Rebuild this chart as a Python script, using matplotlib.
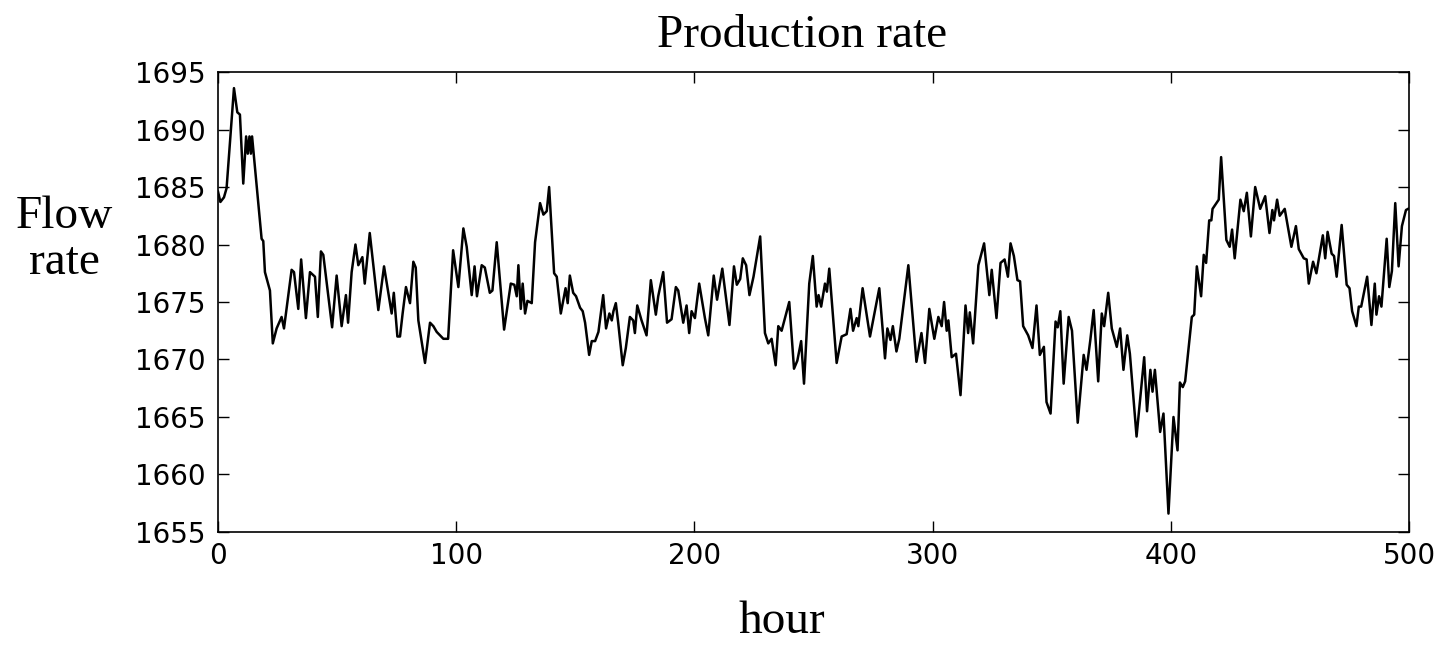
import matplotlib
matplotlib.use('Agg')
import matplotlib.pyplot as plt

hours = [
    0, 1, 2.5, 3.6, 6.7, 8.1, 9.2, 10.6, 11.8, 12.5, 13.2, 13.8, 14.3, 18.3, 19.0, 19.7,
    21.8, 23.0, 24.6, 26.7, 27.7, 30.9, 31.9, 33.7, 34.9, 36.9, 38.6, 40.7, 41.9, 43.2,
    44.2, 47.9, 49.8, 51.9, 53.7, 54.6, 56.1, 57.7, 58.9, 60.6, 61.6, 63.7, 67.3, 69.7,
    72.9, 73.8, 75.3, 76.4, 77.5, 78.9, 80.6, 82.0, 83.0, 84.1, 86.9, 89.0, 90.4, 91.8,
    94.6, 96.6, 98.7, 100.9, 103.0, 104.4, 106.5, 107.7, 108.7, 110.7, 112.0, 114.1,
    115.2, 117.0, 120.1, 122.9, 124.4, 125.4, 126.1, 127.1, 127.9, 128.9, 129.9, 131.7,
    133.1, 135.2, 136.6, 138.0, 139.0, 141.1, 142.2, 143.9, 145.9, 146.8, 147.7, 149.1,
    150.3, 152.0, 153.1, 154.1, 155.8, 156.9, 158.3, 159.7, 161.7, 162.9, 164.3, 165.3,
    166.0, 167.0, 168.0, 169.9, 171.2, 172.9, 174.3, 175.0, 176.0, 177.8, 179.9, 181.7,
    183.8, 184.8, 186.9, 188.5, 190.4, 192.2, 193.2, 195.3, 196.7, 197.8, 198.8, 200.2,
    202.0, 204.4, 205.8, 208.1, 209.5, 211.7, 214.7, 216.6, 217.8, 219.2, 220.3, 221.7,
    223.1, 224.8, 227.6, 229.6, 231.0, 232.4, 234.1, 235.2, 236.6, 239.8, 241.8, 243.2,
    244.8, 246.0, 248.2, 249.7, 251.3, 252.1, 253.2, 254.8, 255.6, 256.6, 259.7, 261.8,
    263.9, 265.5, 266.6, 268.1, 268.8, 270.6, 273.7, 277.6, 280.0, 281.0, 282.3, 283.3,
    284.8, 286.0, 289.8, 293.2, 295.3, 296.8, 298.6, 300.7, 302.4, 303.8, 304.8, 305.9,
    306.6, 308.0, 309.8, 311.7, 313.8, 314.9, 315.6, 317.0, 319.2, 321.6, 323.8, 324.8,
    326.8, 328.5, 330.2, 331.6, 332.7, 334.1, 335.6, 336.7, 338.0, 340.1, 341.9, 343.6,
    345.0, 346.7, 347.8, 349.5, 351.6, 352.5, 353.6, 355.0, 357.1, 358.5, 360.9, 363.4,
    364.6, 366.2, 367.6, 369.5, 371.0, 372.0, 373.7, 375.2, 377.3, 378.7, 380.1, 381.7,
    382.8, 385.6, 388.8, 390.0, 391.4, 392.3, 393.3, 395.5, 396.9, 399.0, 401.1, 402.8,
    403.8, 405.0, 406.0, 408.8, 409.8, 410.9, 412.7, 413.8, 414.8, 416.1, 417.0, 417.5,
    420.1, 421.1, 423.3, 424.7, 425.7, 426.8, 429.2, 430.6, 431.9, 433.6, 435.4, 437.5,
    439.6, 441.4, 442.6, 443.3, 444.6, 445.7, 447.8, 450.6, 452.5, 453.7, 455.8, 457.0,
    457.9, 459.7, 461.1, 463.8, 464.8, 465.8, 467.5, 468.5, 469.6, 471.7, 473.8, 475.0,
    476.1, 477.9, 478.9, 479.9, 482.4, 484.2, 485.6, 486.3, 487.4, 488.4, 490.6, 491.7,
    492.8, 494.2, 495.6, 497.0, 498.7, 499.6,
]

flow = [
    1684.6, 1683.7, 1684.1, 1684.9, 1693.6, 1691.5, 1691.3, 1685.3, 1689.4, 1687.9, 1689.4, 1687.9, 1689.4, 1680.5, 1680.3, 1677.6,
    1676.0, 1671.4, 1672.7, 1673.7, 1672.7, 1677.8, 1677.6, 1674.4, 1678.7, 1673.6, 1677.6, 1677.2, 1673.7, 1679.4,
    1679.1, 1672.8, 1677.3, 1672.9, 1675.6, 1673.2, 1677.6, 1680.0, 1678.2, 1678.9, 1676.6, 1681.0, 1674.3, 1678.1,
    1674.0, 1675.8, 1672.0, 1672.0, 1674.0, 1676.3, 1674.9, 1678.5, 1678.0, 1673.4, 1669.7, 1673.2, 1672.9, 1672.4,
    1671.8, 1671.8, 1679.5, 1676.3, 1681.4, 1679.8, 1675.6, 1678.1, 1675.5, 1678.2, 1678.0, 1675.8,
    1676.0, 1680.2, 1672.6, 1676.6, 1676.5, 1675.5, 1678.2, 1674.4, 1676.6, 1674.0, 1675.1, 1674.9,
    1680.2, 1683.6, 1682.6, 1682.9, 1685.0, 1677.5, 1677.2, 1674.0, 1676.2, 1674.9, 1677.3, 1675.8,
    1675.5, 1674.5, 1674.2, 1673.2, 1670.4, 1671.6, 1671.6, 1672.4, 1675.6, 1672.7, 1674.0, 1673.4,
    1674.2, 1674.9, 1673.2, 1669.5, 1671.0, 1673.7, 1673.4, 1672.3, 1674.7, 1673.4, 1672.1, 1676.9,
    1673.9, 1675.5, 1677.6, 1673.2, 1673.5, 1676.3, 1676.0, 1673.2, 1674.7, 1672.3, 1674.2, 1673.6,
    1676.6, 1673.6, 1672.1, 1677.3, 1675.2, 1677.9, 1673.0, 1678.1, 1676.5, 1677.0, 1678.8, 1678.2,
    1675.6, 1677.2, 1680.7, 1672.3, 1671.4, 1671.8, 1669.5, 1672.9, 1672.5, 1675.0, 1669.2, 1669.9,
    1671.6, 1667.9, 1676.6, 1679.0, 1674.6, 1675.6, 1674.6, 1676.6, 1675.9, 1677.9, 1669.7, 1672.0,
    1672.2, 1674.4, 1672.5, 1673.6, 1672.9, 1676.2, 1672.0, 1676.2, 1670.1, 1672.7, 1671.7, 1672.9,
    1670.7, 1671.8, 1678.2, 1669.8, 1672.3, 1669.7, 1674.4, 1671.8, 1673.7, 1672.9, 1675.0, 1672.5,
    1673.4, 1670.2, 1670.5, 1666.9, 1674.7, 1672.3, 1674.1, 1671.4, 1678.2, 1680.1, 1675.6, 1677.8,
    1673.6, 1678.4, 1678.7, 1677.2, 1680.1, 1679.0, 1676.9, 1676.8, 1672.9, 1672.1, 1671.0, 1674.7,
    1670.4, 1671.1, 1666.3, 1665.3, 1673.3, 1672.8, 1674.2, 1667.9, 1673.7, 1672.5, 1664.5, 1670.4,
    1669.1, 1671.7, 1674.3, 1668.1, 1674.0, 1672.9, 1675.8, 1672.7, 1671.1, 1672.7, 1669.1, 1672.1,
    1670.5, 1663.3, 1670.2, 1665.5, 1669.1, 1667.2, 1669.1, 1663.7, 1665.3, 1656.6, 1665.0, 1662.1,
    1668.0, 1667.6, 1668.1, 1673.7, 1673.9, 1678.1, 1675.5, 1679.1, 1678.4, 1682.1, 1682.1, 1683.1,
    1683.9, 1687.6, 1680.4, 1679.8, 1681.3, 1678.8, 1683.9, 1682.9, 1684.5, 1680.7, 1685.0, 1683.1,
    1684.2, 1681.0, 1683.0, 1682.1, 1683.9, 1682.5, 1683.1, 1679.8, 1681.6, 1679.6, 1678.8, 1678.7,
    1676.6, 1678.5, 1677.5, 1680.8, 1678.8, 1681.1, 1679.2, 1679.0, 1677.2, 1681.7, 1676.5, 1676.2,
    1674.2, 1672.9, 1674.6, 1674.6, 1677.2, 1673.0, 1676.6, 1673.9, 1675.5, 1674.6, 1680.5, 1676.3,
    1677.7, 1683.6, 1678.1, 1681.6, 1683.0, 1683.1,
]

serif = 'Liberation Serif'

fig = plt.figure(figsize=(14.39, 6.46), dpi=100)
ax = fig.add_axes([0.1515, 0.1765, 0.8277, 0.712])

ax.plot(hours, flow, color='black', linewidth=1.8)

ax.set_xlim(0, 500)
ax.set_ylim(1655, 1695)
ax.set_xticks([0, 100, 200, 300, 400, 500])
ax.set_yticks([1655, 1660, 1665, 1670, 1675, 1680, 1685, 1690, 1695])
ax.tick_params(direction='in', length=8, width=1, top=True, right=True,
               labelsize=20, pad=9, colors='black')
ax.tick_params(axis='x', pad=7)
for s in ax.spines.values():
    s.set_linewidth(1.2)

ax.set_title('Production rate', fontsize=34, family=serif, pad=18, x=0.49)
ax.set_xlabel('hour', fontsize=34, family=serif)
ax.xaxis.set_label_coords(0.473, -0.15)
ax.set_ylabel('Flow\nrate', fontsize=34, family=serif, rotation=0,
              ha='center', va='center', linespacing=1.1)
ax.yaxis.set_label_coords(-0.129, 0.635)

fig.savefig('out.png', dpi=100)
plt.close(fig)
